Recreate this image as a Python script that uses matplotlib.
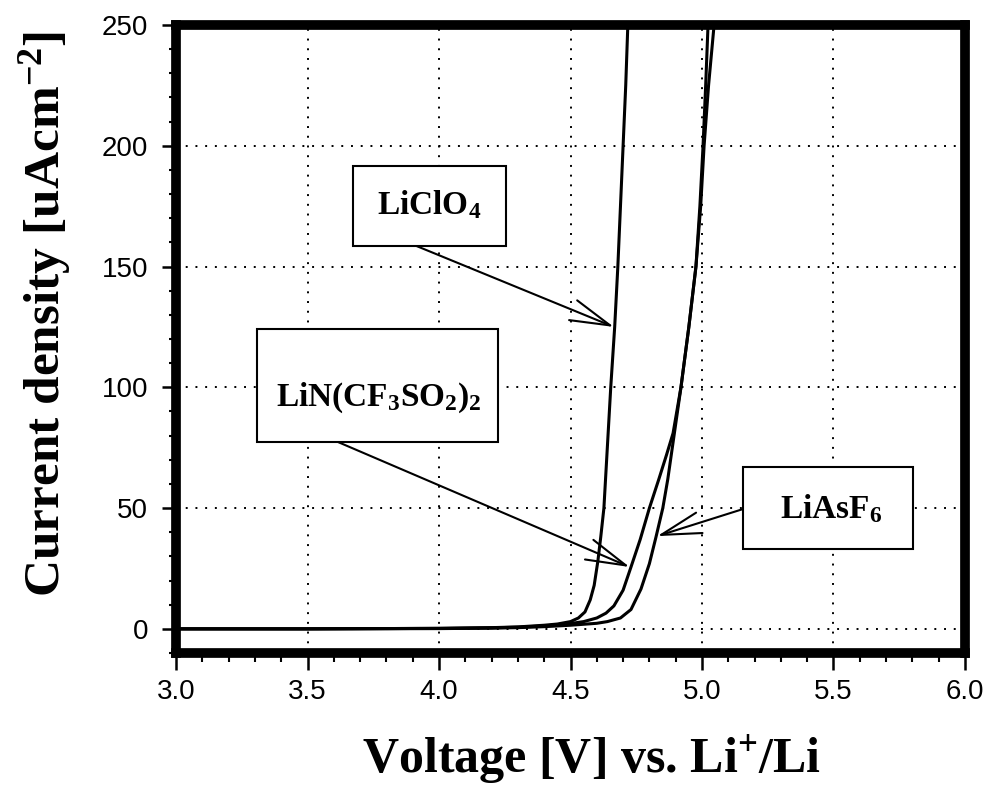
import matplotlib
matplotlib.use("Agg")
import matplotlib.pyplot as plt
from matplotlib.patches import Rectangle
from matplotlib.ticker import MultipleLocator

# (voltage in V, current density in uA/cm2)
v_clo4 = [3.0, 3.5, 4.0, 4.2, 4.3, 4.4, 4.45, 4.5, 4.53, 4.555, 4.575, 4.59, 4.604,
          4.615, 4.627, 4.64, 4.653, 4.668, 4.68, 4.69, 4.70, 4.71, 4.718, 4.725]
i_clo4 = [0, 0, 0.2, 0.5, 0.8, 1.5, 2.0, 3.0, 4.5, 7, 12, 18, 28,
          38, 50, 75, 100, 125, 150, 175, 200, 225, 250, 265]

v_tfsi = [3.0, 3.5, 4.0, 4.2, 4.3, 4.4, 4.5, 4.55, 4.6, 4.635, 4.665, 4.70, 4.73,
          4.765, 4.80, 4.836, 4.865, 4.89, 4.92, 4.95, 4.977, 4.992, 5.004, 5.014, 5.023, 5.03]
i_tfsi = [0, 0, 0.2, 0.4, 0.7, 1.2, 2.2, 3.0, 4.5, 6.5, 9.5, 16, 25.6,
          37, 50, 62, 72, 81, 100, 125, 150, 175, 200, 225, 250, 265]

v_asf6 = [3.0, 3.5, 4.0, 4.2, 4.3, 4.4, 4.5, 4.6, 4.64, 4.69, 4.73, 4.768, 4.80,
          4.825, 4.851, 4.87, 4.895, 4.92, 4.95, 4.977, 4.995, 5.008, 5.025, 5.046, 5.055]
i_asf6 = [0, 0, 0.1, 0.3, 0.5, 0.9, 1.5, 2.3, 3.0, 4.5, 8, 16.5, 27,
          38, 50, 62, 81, 100, 125, 150, 175, 200, 225, 250, 265]

# label boxes: text, text centre, box (x0, x1, y0, y1), arrow start, arrow tip
labels = [
    ('LiClO$_4$', (3.964, 175.6), (3.674, 4.253, 158.7, 191.7), (3.910, 158.7), (4.665, 125)),
    ('LiN(CF$_3$SO$_2$)$_2$', (3.770, 95.5), (3.309, 4.223, 77.3, 124.0), (3.617, 77.3), (4.725, 25.6)),
    ('LiAsF$_6$', (5.491, 49.5), (5.156, 5.804, 33.1, 66.9), (5.156, 49.6), (4.83, 38.4)),
]

plt.rcParams['mathtext.fontset'] = 'custom'
plt.rcParams['mathtext.rm'] = 'Liberation Serif:bold'
plt.rcParams['mathtext.it'] = 'Liberation Serif:bold'
plt.rcParams['mathtext.bf'] = 'Liberation Serif:bold'

fig = plt.figure(figsize=(9.89, 7.92), dpi=100)
ax = fig.add_axes([0.178, 0.1755, 0.7977, 0.7929])

for v, i in [(v_clo4, i_clo4), (v_tfsi, i_tfsi), (v_asf6, i_asf6)]:
    ax.plot(v, i, color='black', lw=2.2, zorder=3)

ax.set_xlim(3.0, 6.0)
ax.set_ylim(-10, 250)
ax.xaxis.set_major_locator(MultipleLocator(0.5))
ax.xaxis.set_minor_locator(MultipleLocator(0.1))
ax.yaxis.set_major_locator(MultipleLocator(50))
ax.yaxis.set_minor_locator(MultipleLocator(10))
ax.xaxis.set_major_formatter(plt.FormatStrFormatter('%.1f'))

ax.grid(True, which='major', color='black', ls=(0, (1, 4)), lw=1.4)
ax.set_axisbelow(True)

for s in ax.spines.values():
    s.set_linewidth(7)
    s.set_zorder(4)

ax.tick_params(axis='x', which='major', direction='out', length=12, width=1.8, pad=7)
ax.tick_params(axis='x', which='minor', direction='out', length=6.5, width=1.5)
ax.tick_params(axis='y', which='major', direction='out', length=10, width=1.8, pad=10)
ax.tick_params(axis='y', which='minor', direction='out', length=5, width=1.5)
for lab in ax.get_xticklabels() + ax.get_yticklabels():
    lab.set_fontfamily('Liberation Sans')
    lab.set_fontsize(20)

ax.set_xlabel('Voltage [V] vs. Li$^{+}$/Li', family='Liberation Serif',
              fontweight='bold', fontsize=36, va='center')
ax.xaxis.set_label_coords(0.527, -0.17)
ax.set_ylabel('Current density [uAcm$^{-2}$]', family='Liberation Serif',
              fontweight='bold', fontsize=37, va='center')
ax.yaxis.set_label_coords(-0.166, 0.54)

for text, centre, (x0, x1, y0, y1), start, tip in labels:
    ax.add_patch(Rectangle((x0, y0), x1 - x0, y1 - y0, fc='white', ec='black',
                           lw=1.5, zorder=6))
    ax.text(centre[0], centre[1], text, ha='center', va='center',
            family='Liberation Serif', fontweight='bold', fontsize=24, zorder=7)
    ax.annotate('', xy=tip, xytext=start, textcoords='data', zorder=5,
                arrowprops=dict(arrowstyle='->,head_length=1.2,head_width=0.32',
                                color='black', lw=1.5, shrinkA=0, shrinkB=0,
                                mutation_scale=24))

fig.savefig('out.png', dpi=100)
